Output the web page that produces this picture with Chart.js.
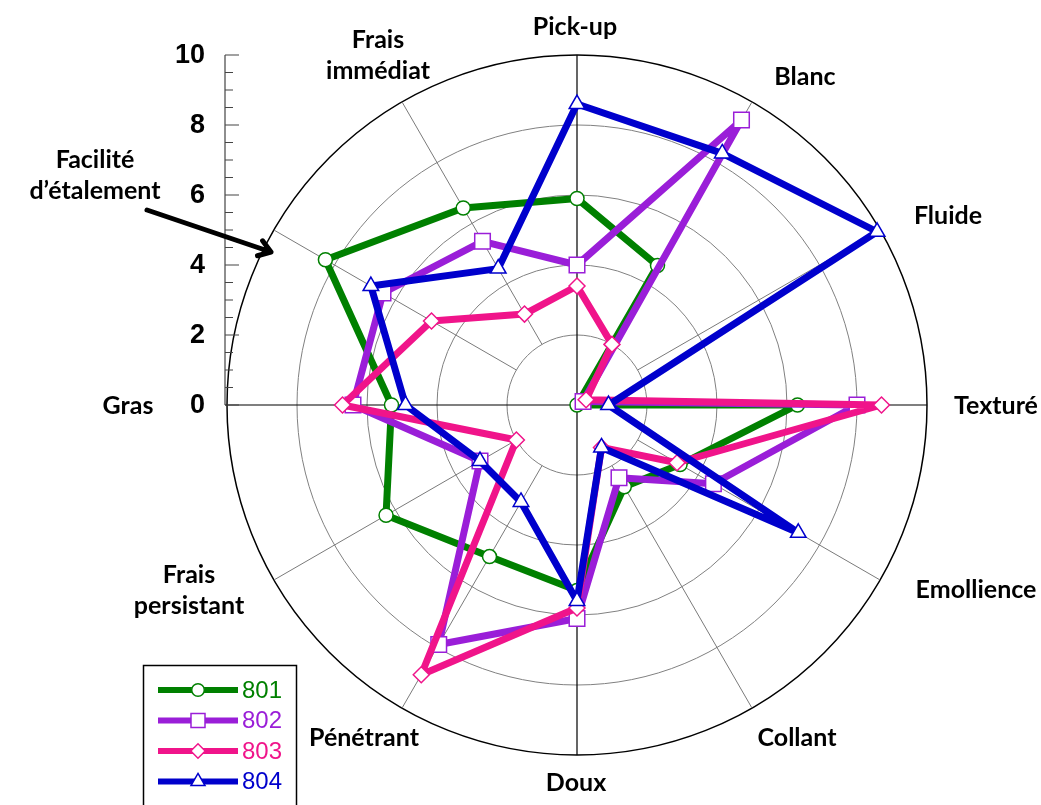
<!DOCTYPE html>
<html>
<head>
<meta charset="utf-8">
<script src="https://cdn.jsdelivr.net/npm/chart.js@4.4.0/dist/chart.umd.min.js"></script>
<style>
  html, body { margin: 0; padding: 0; background: #fff; }
  #wrap { position: relative; width: 1041px; height: 805px; }
</style>
</head>
<body>
<div id="wrap"><canvas id="radar" width="1041" height="805"></canvas></div>
<script>
// axes, clockwise from the top
const attributes = ['Pick-up', 'Blanc', 'Fluide', 'Texturé', 'Emollience', 'Collant', 'Doux',
  'Pénétrant', 'Frais persistant', 'Gras', 'Facilité d\u2019étalement', 'Frais immédiat'];

const s801 = [5.9, 4.6, 0.0, 6.3, 3.4, 2.7, 5.3, 5.0, 6.3, 5.3, 8.3, 6.5];
const s802 = [4.0, 9.4, 0.2, 8.0, 4.5, 2.4, 6.1, 7.9, 3.2, 6.4, 6.4, 5.4];
const s803 = [3.4, 2.0, 0.3, 8.7, 3.3, 1.4, 5.8, 8.9, 2.0, 6.7, 4.8, 3.0];
const s804 = [8.6, 8.3, 9.9, 0.9, 7.3, 1.4, 5.6, 3.2, 3.2, 4.9, 6.8, 4.5];

const seriesNames = ['801', '802', '803', '804'];
const tickValues = [0, 2, 4, 6, 8, 10];

const colors = ['#008000', '#9a1ed8', '#f0148a', '#0000cc'];
const styles = ['circle', 'rect', 'rectRot', 'triangle'];
const radii = [7, 11, 8, 9];

// where each axis title sits, relative to the centre
const labelSpots = [
  [-2, -378], [228, -328], [371, -189], [419, 1], [399, 185], [220, 333],
  [-1, 378], [-213, 333], [-388, 185], [-449, 1], [-482, -230], [-199, -350]
];
const labelLines = [
  ['Pick-up'], ['Blanc'], ['Fluide'], ['Texturé'], ['Emollience'], ['Collant'], ['Doux'],
  ['Pénétrant'], ['Frais', 'persistant'], ['Gras'], ['Facilité', 'd\u2019étalement'], ['Frais', 'immédiat']
];

const decor = {
  id: 'decor',
  beforeDatasetsDraw(chart) {
    const s = chart.scales.r;
    const ctx = chart.ctx;
    const cx = s.xCenter, cy = s.yCenter, R = s.drawingArea;
    const r2 = s.getDistanceFromCenterForValue(2);
    ctx.save();
    // spokes, outside the first ring only
    ctx.strokeStyle = '#7a7a7a';
    ctx.lineWidth = 1;
    for (let i = 0; i < attributes.length; i++) {
      if (i % 3 === 0) continue;
      const a = s.getPointPosition(i, r2), b = s.getPointPosition(i, R);
      ctx.beginPath(); ctx.moveTo(a.x, a.y); ctx.lineTo(b.x, b.y); ctx.stroke();
    }
    // black cross
    ctx.strokeStyle = '#000';
    ctx.lineWidth = 1.2;
    ctx.beginPath();
    ctx.moveTo(cx, cy - R); ctx.lineTo(cx, cy + R);
    ctx.moveTo(cx - R - 2, cy); ctx.lineTo(cx + R, cy);
    ctx.stroke();
    // left value axis
    const ax = cx - R - 2;
    ctx.strokeStyle = '#444';
    ctx.beginPath();
    ctx.moveTo(ax, cy - R); ctx.lineTo(ax, cy);
    for (let v = 0; v <= 10; v += 0.5) {
      const y = cy - s.getDistanceFromCenterForValue(v);
      const len = v % 2 === 0 ? 14 : 8;
      ctx.moveTo(ax, y); ctx.lineTo(ax + len, y);
    }
    ctx.stroke();
    ctx.fillStyle = '#000';
    ctx.font = 'bold 27px "Liberation Sans", Arial, sans-serif';
    ctx.textAlign = 'right';
    ctx.textBaseline = 'middle';
    tickValues.forEach(v => {
      ctx.fillText(String(v), ax - 20, cy - s.getDistanceFromCenterForValue(v) + 1);
    });
    ctx.restore();
  },
  afterDraw(chart) {
    const s = chart.scales.r;
    const ctx = chart.ctx;
    const cx = s.xCenter, cy = s.yCenter;
    ctx.save();
    // axis titles
    ctx.fillStyle = '#000';
    ctx.font = 'bold 25px Lato, "Open Sans", sans-serif';
    ctx.textAlign = 'center';
    ctx.textBaseline = 'middle';
    labelLines.forEach((lines, i) => {
      const [dx, dy] = labelSpots[i];
      const top = cy + dy - (lines.length - 1) * 31 / 2;
      lines.forEach((t, k) => ctx.fillText(t, cx + dx, top + k * 31));
    });
    // arrow to "Facilité d'étalement"
    const x0 = cx - 430, y0 = cy - 195, x1 = cx - 306, y1 = cy - 153;
    const ang = Math.atan2(y1 - y0, x1 - x0);
    ctx.strokeStyle = '#000';
    ctx.lineWidth = 5;
    ctx.lineCap = 'round';
    ctx.lineJoin = 'round';
    ctx.beginPath();
    ctx.moveTo(x0, y0); ctx.lineTo(x1, y1);
    ctx.moveTo(x1 - 14 * Math.cos(ang - 0.6), y1 - 14 * Math.sin(ang - 0.6));
    ctx.lineTo(x1, y1);
    ctx.lineTo(x1 - 14 * Math.cos(ang + 0.6), y1 - 14 * Math.sin(ang + 0.6));
    ctx.stroke();
    // legend box
    ctx.lineCap = 'butt';
    ctx.lineJoin = 'miter';
    ctx.lineWidth = 1.5;
    ctx.strokeRect(143.5, 665.5, 153, 160);
    ctx.font = '24px "Liberation Sans", Arial, sans-serif';
    ctx.textAlign = 'left';
    chart.data.datasets.forEach((ds, k) => {
      const y = 690 + k * 30.5;
      ctx.strokeStyle = ds.borderColor;
      ctx.lineWidth = 6;
      ctx.beginPath(); ctx.moveTo(158, y); ctx.lineTo(238, y); ctx.stroke();
      ctx.fillStyle = '#fff';
      ctx.lineWidth = 1.5;
      Chart.helpers.drawPoint(ctx, { pointStyle: ds.pointStyle, rotation: 0, radius: ds.pointRadius * 0.9, borderWidth: 1.5 }, 198, y);
      ctx.fillStyle = ds.borderColor;
      ctx.fillText(ds.label, 242, y + 1);
    });
    ctx.restore();
  }
};

const series = [s801, s802, s803, s804];
const datasets = series.map((data, k) => ({
  label: seriesNames[k],
  data: data,
  borderColor: colors[k],
  backgroundColor: 'transparent',
  borderWidth: 7,
  borderJoinStyle: 'round',
  fill: false,
  pointStyle: styles[k],
  pointRadius: radii[k],
  pointBackgroundColor: '#fff',
  pointBorderColor: colors[k],
  pointBorderWidth: 1.5,
  order: 4 - k
}));

new Chart(document.getElementById('radar').getContext('2d'), {
  type: 'radar',
  data: { labels: attributes, datasets },
  options: {
    responsive: false,
    animation: false,
    devicePixelRatio: 1,
    layout: { padding: { left: 227, right: 114, top: 55, bottom: 50 } },
    elements: { line: { tension: 0 } },
    scales: {
      r: {
        min: 0,
        max: 10,
        ticks: { display: false, stepSize: 2 },
        grid: {
          circular: true,
          color: c => (c.tick && c.tick.value === 10 ? '#000' : '#808080'),
          lineWidth: c => (c.tick && c.tick.value === 10 ? 1.5 : 1)
        },
        angleLines: { display: false },
        pointLabels: { display: false }
      }
    },
    plugins: {
      legend: { display: false },
      tooltip: { enabled: false }
    }
  },
  plugins: [decor]
});
</script>
</body>
</html>
